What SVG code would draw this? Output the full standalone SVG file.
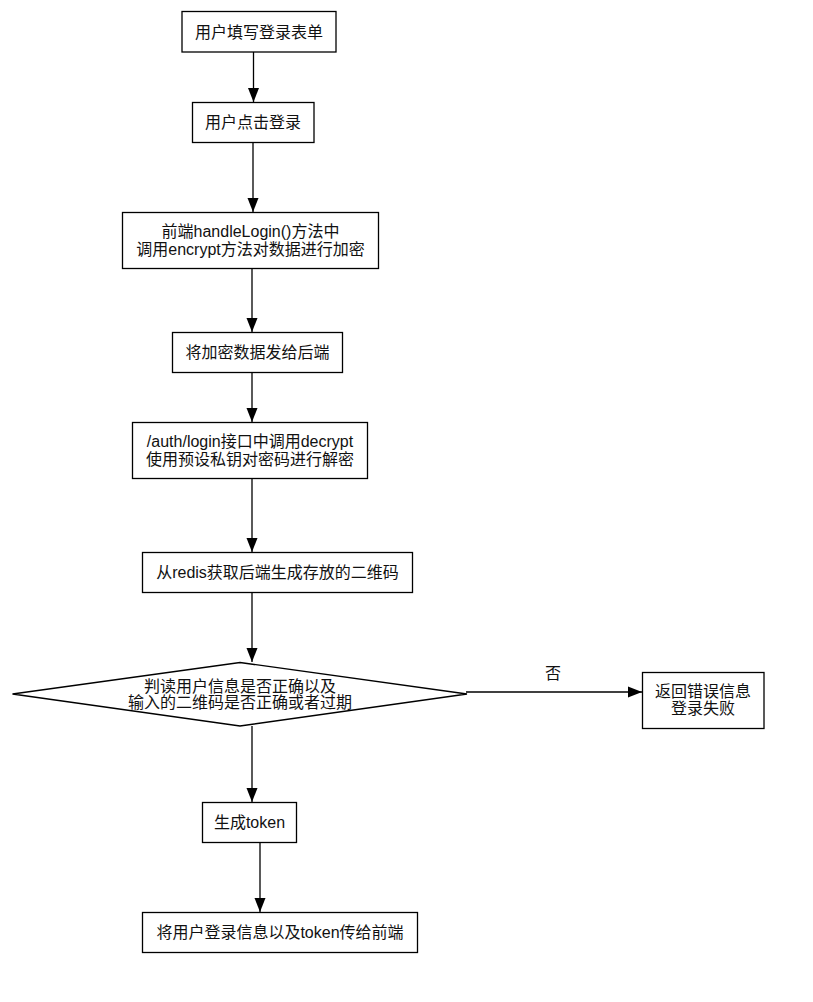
<svg xmlns="http://www.w3.org/2000/svg" width="813" height="1002" viewBox="0 0 813 1002">
<defs>
<marker id="ah" markerWidth="14" markerHeight="12" viewBox="0 0 14 12" refX="14" refY="6" orient="auto" markerUnits="userSpaceOnUse">
<path d="M0,0.5 L14,6 L0,11.5 Z" fill="#000"/>
</marker>
<style>
.n{fill:#fff;stroke:#000;stroke-width:1.3}
.t{font-family:"Liberation Sans","Noto Sans CJK SC",sans-serif;font-size:16px;fill:#111;text-anchor:middle;dominant-baseline:central}
.c{fill:none;stroke:#000;stroke-width:1.3;marker-end:url(#ah)}
</style>
</defs>
<rect width="813" height="1002" fill="#fff"/>
<g id="connectors">
<path class="c" d="M253.5,52 V102"/>
<path class="c" d="M253,142 V212"/>
<path class="c" d="M252,268 V332"/>
<path class="c" d="M252,372 V422"/>
<path class="c" d="M252,478 V552"/>
<path class="c" d="M252,592 V662"/>
<path class="c" d="M252,726 V802"/>
<path class="c" d="M260,842 V912"/>
<path class="c" d="M466,692 H642"/>
<text class="t" x="553" y="673">否</text>
</g>
<g id="n1"><rect class="n" x="182" y="11.5" width="154" height="40.5"/><text class="t" x="259" y="32">用户填写登录表单</text></g>
<g id="n2"><rect class="n" x="192.5" y="102.5" width="121.5" height="40"/><text class="t" x="253" y="122.5">用户点击登录</text></g>
<g id="n3"><rect class="n" x="122.5" y="212.5" width="256" height="56"/><text class="t" x="250.5" y="231.5">前端handleLogin()方法中</text><text class="t" x="250.5" y="249">调用encrypt方法对数据进行加密</text></g>
<g id="n4"><rect class="n" x="172.5" y="332.5" width="170" height="40"/><text class="t" x="257.5" y="352.5">将加密数据发给后端</text></g>
<g id="n5"><rect class="n" x="132.5" y="422.5" width="235" height="56"/><text class="t" x="250" y="441.5">/auth/login接口中调用decrypt</text><text class="t" x="250" y="459">使用预设私钥对密码进行解密</text></g>
<g id="n6"><rect class="n" x="142.5" y="552.5" width="270" height="40"/><text class="t" x="277.5" y="572.5">从redis获取后端生成存放的二维码</text></g>
<g id="n7"><path class="n" d="M240,662.5 L467,694 L240,726 L12.5,694 Z"/><text class="t" x="240" y="686.5">判读用户信息是否正确以及</text><text class="t" x="240" y="702.5">输入的二维码是否正确或者过期</text></g>
<g id="n8"><rect class="n" x="642.5" y="672.5" width="121.5" height="56"/><text class="t" x="703" y="691.5">返回错误信息</text><text class="t" x="703" y="708">登录失败</text></g>
<g id="n9"><rect class="n" x="202.5" y="802.5" width="94" height="40"/><text class="t" x="249.5" y="822.5">生成token</text></g>
<g id="n10"><rect class="n" x="142.5" y="912.5" width="275" height="40"/><text class="t" x="280" y="932.5">将用户登录信息以及token传给前端</text></g>
</svg>
